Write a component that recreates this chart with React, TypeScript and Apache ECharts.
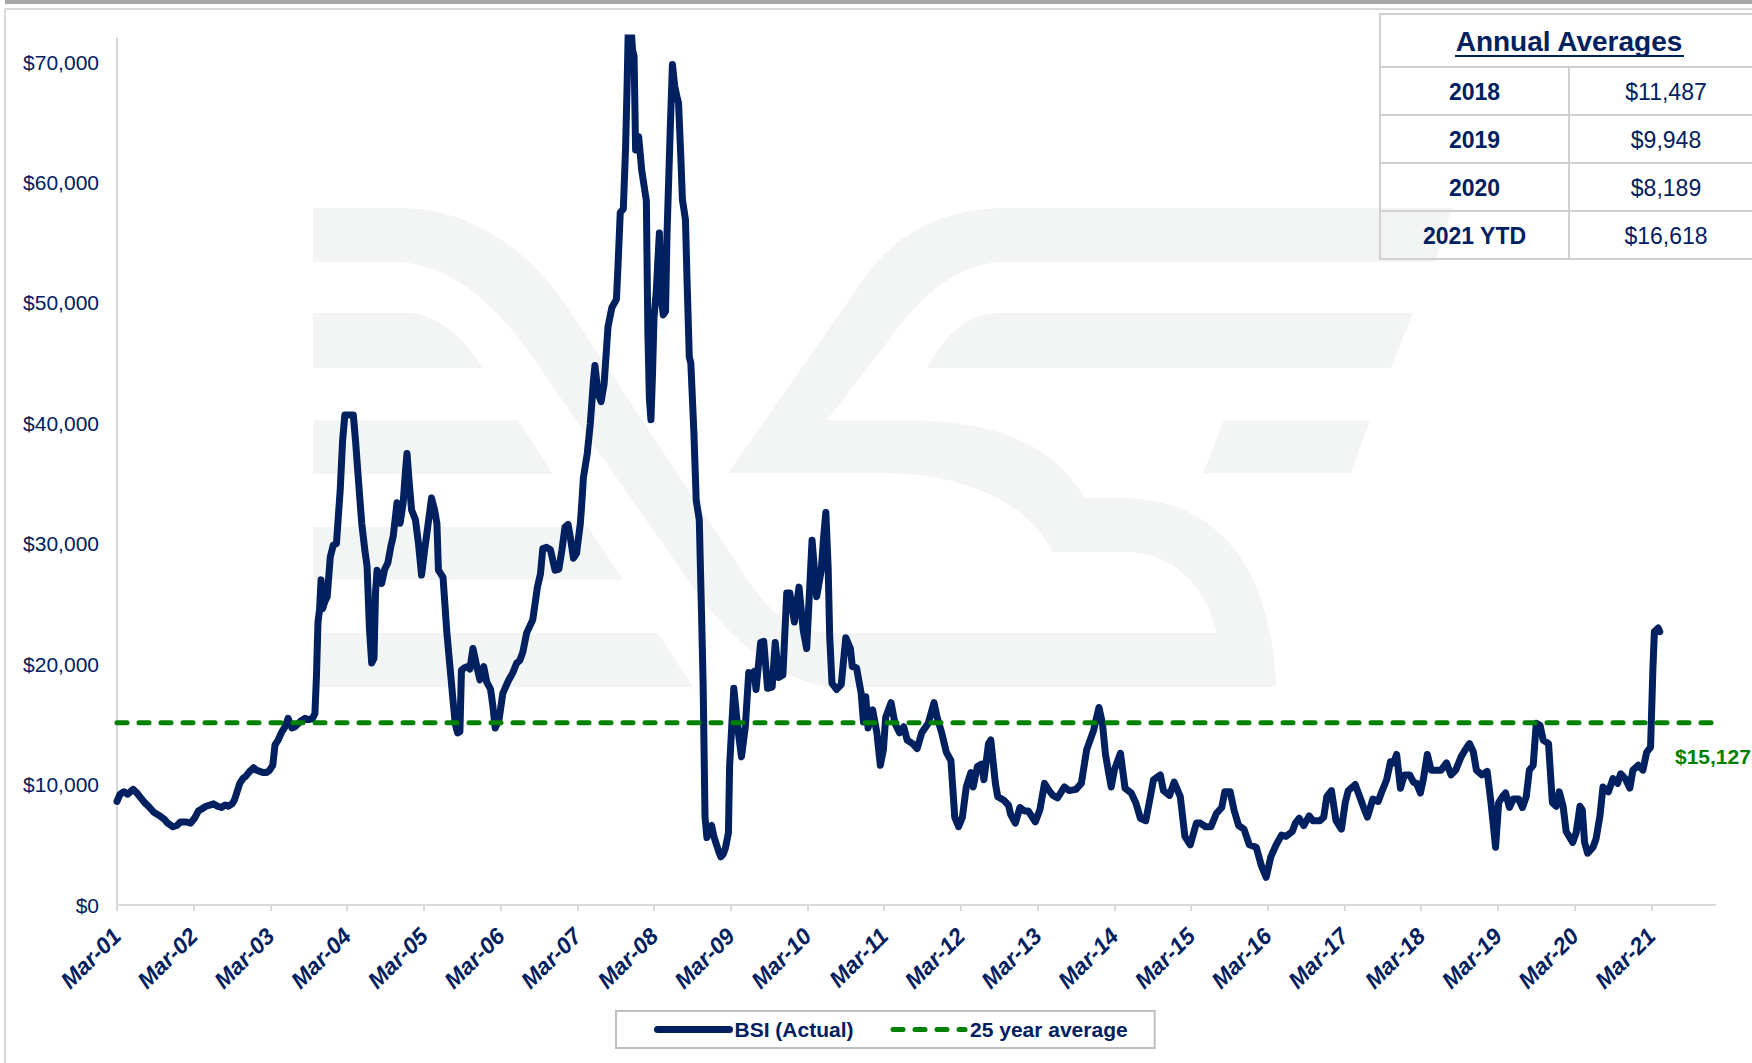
import React, { useEffect, useRef } from 'react';
import * as echarts from 'echarts';

// ---------- axis setup (x = years since Mar-2001) ----------
const xAxisMax = 20.83;
const yAxisMax = 72000;
const xTickPositions = [0, 1, 2, 3, 4, 5, 6, 7, 8, 9, 10, 11, 12, 13, 14, 15, 16, 17, 18, 19, 20];
const xTickLabels = [
  'Mar-01', 'Mar-02', 'Mar-03', 'Mar-04', 'Mar-05', 'Mar-06', 'Mar-07', 'Mar-08', 'Mar-09', 'Mar-10',
  'Mar-11', 'Mar-12', 'Mar-13', 'Mar-14', 'Mar-15', 'Mar-16', 'Mar-17', 'Mar-18', 'Mar-19', 'Mar-20', 'Mar-21',
];
const yTickValues = [0, 10000, 20000, 30000, 40000, 50000, 60000, 70000];

const averageValue = 15127;

// ---------- annual averages table ----------
const tableTitle = 'Annual Averages';
const tableYears = ['2018', '2019', '2020', '2021 YTD'];
const tableAverages = [11487, 9948, 8189, 16618];

// ---------- BSI series: [years since Mar-2001, USD/day] ----------
const bsi2001to2004 = [
  [0.00, 8600], [0.04, 9200], [0.09, 9400], [0.14, 9200], [0.21, 9600], [0.26, 9300], [0.31, 8900], [0.36, 8500],
  [0.41, 8200], [0.48, 7700], [0.56, 7400], [0.62, 7100], [0.66, 6800], [0.73, 6500], [0.78, 6600], [0.83, 6900],
  [0.90, 6900], [0.96, 6800], [1.01, 7200], [1.06, 7800], [1.11, 8000], [1.16, 8200], [1.21, 8300], [1.26, 8400],
  [1.31, 8200], [1.36, 8100], [1.41, 8300], [1.45, 8200], [1.50, 8400], [1.53, 8700], [1.57, 9500], [1.60, 10100],
  [1.64, 10500], [1.68, 10700], [1.73, 11100], [1.78, 11400], [1.82, 11200], [1.86, 11100], [1.91, 11000], [1.95, 11000],
  [1.99, 11200], [2.03, 11600], [2.06, 13300], [2.10, 13700], [2.15, 14400], [2.19, 14800], [2.23, 15500], [2.26, 15000],
  [2.28, 14700], [2.32, 14800], [2.35, 15000], [2.40, 15300], [2.45, 15500], [2.50, 15400], [2.55, 15500], [2.58, 15900],
  [2.60, 19000], [2.62, 23500], [2.64, 24500], [2.66, 27000], [2.68, 24600], [2.71, 25200], [2.74, 25600], [2.78, 28900],
  [2.82, 29900], [2.86, 30000], [2.91, 34500], [2.94, 38500], [2.97, 40700], [3.02, 40700], [3.08, 40700], [3.11, 38500],
  [3.14, 35900], [3.19, 31700], [3.23, 29500], [3.26, 28100], [3.29, 23000], [3.32, 20100], [3.35, 20500], [3.37, 26000],
  [3.39, 27800], [3.45, 26700], [3.49, 27900], [3.53, 28400], [3.57, 29800], [3.60, 30600], [3.65, 33400], [3.69, 31700],
  [3.73, 33400], [3.76, 36000], [3.78, 37500], [3.81, 35000], [3.84, 32800], [3.89, 32000], [3.93, 30000], [3.97, 27400],
];
const bsi2005to2008 = [
  [4.01, 29500], [4.04, 30900], [4.10, 33800], [4.14, 32800], [4.17, 31700], [4.19, 27800], [4.25, 27200], [4.30, 22600],
  [4.34, 19800], [4.38, 17000], [4.41, 15000], [4.44, 14300], [4.47, 14400], [4.49, 19500], [4.53, 19700], [4.57, 19800],
  [4.60, 19600], [4.64, 21300], [4.69, 19800], [4.73, 18700], [4.78, 19800], [4.82, 18500], [4.87, 17900], [4.90, 16500],
  [4.93, 14700], [4.98, 15400], [5.03, 17600], [5.10, 18600], [5.16, 19300], [5.21, 20100], [5.25, 20300], [5.29, 21000],
  [5.34, 22600], [5.42, 23700], [5.46, 25500], [5.48, 26400], [5.52, 27500], [5.55, 29600], [5.60, 29700], [5.65, 29500],
  [5.71, 27800], [5.76, 27900], [5.80, 29500], [5.84, 31400], [5.88, 31600], [5.91, 30500], [5.95, 28800], [5.99, 29200],
  [6.04, 31700], [6.06, 33500], [6.08, 35500], [6.13, 37500], [6.17, 40000], [6.21, 43500], [6.23, 44800], [6.27, 42500],
  [6.31, 41800], [6.35, 43300], [6.40, 48000], [6.45, 49600], [6.51, 50300], [6.53, 53000], [6.56, 57500], [6.60, 57800],
  [6.63, 63000], [6.65, 68300], [6.665, 73000], [6.70, 73000], [6.72, 71000], [6.74, 70500], [6.76, 62700], [6.80, 63800],
  [6.84, 61000], [6.90, 58500], [6.92, 47500], [6.94, 42000], [6.96, 40300], [6.98, 44000], [7.00, 48800], [7.03, 51000],
  [7.05, 53500], [7.07, 55800], [7.10, 50200], [7.12, 49000], [7.15, 49300], [7.17, 55800], [7.21, 64100], [7.24, 69800],
  [7.27, 68000], [7.30, 67100], [7.32, 66600], [7.35, 62000], [7.37, 58600], [7.41, 56900], [7.43, 52000], [7.46, 45500],
  [7.48, 45000], [7.52, 39200], [7.55, 33600], [7.59, 32000], [7.62, 24000], [7.64, 18400], [7.665, 7300], [7.69, 5600],
  [7.72, 6500], [7.75, 6600], [7.78, 5700], [7.81, 5100], [7.84, 4500], [7.87, 4000], [7.90, 4200], [7.93, 4700],
  [7.97, 6000],
];
const bsi2009to2012 = [
  [7.985, 11500], [8.04, 18000], [8.09, 14800], [8.14, 12300], [8.19, 14800], [8.235, 19300], [8.27, 19200], [8.305, 19400],
  [8.33, 17900], [8.39, 21800], [8.43, 21900], [8.48, 18000], [8.54, 18100], [8.58, 21800], [8.625, 18900], [8.68, 19100],
  [8.73, 25900], [8.77, 25900], [8.83, 23500], [8.89, 26400], [8.945, 22800], [8.99, 21300], [9.06, 30300], [9.12, 25600],
  [9.18, 27800], [9.21, 30500], [9.24, 32600], [9.27, 28000], [9.29, 22300], [9.32, 18400], [9.38, 17900], [9.44, 18300],
  [9.50, 22200], [9.56, 21300], [9.585, 19800], [9.64, 19700], [9.70, 17600], [9.73, 15200], [9.76, 17300], [9.79, 14700],
  [9.85, 16200], [9.905, 14300], [9.95, 11600], [9.99, 12900], [10.02, 15600], [10.09, 16800], [10.14, 15100], [10.20, 14300],
  [10.255, 14800], [10.30, 13700], [10.37, 13400], [10.43, 13000], [10.49, 14300], [10.575, 15100], [10.65, 16800], [10.69, 15600],
  [10.75, 14300], [10.81, 12700], [10.87, 12000], [10.92, 7300], [10.97, 6500], [11.02, 7300], [11.07, 9800], [11.13, 11000],
  [11.16, 9800], [11.215, 11500], [11.27, 11700], [11.30, 10400], [11.36, 13400], [11.39, 13700], [11.45, 10100], [11.48, 9000],
  [11.56, 8700], [11.62, 8300], [11.65, 7500], [11.71, 6800], [11.77, 8100], [11.83, 7800], [11.88, 7800], [11.97, 6900],
];
const bsi2013to2016 = [
  [12.03, 7900], [12.09, 10100], [12.15, 9500], [12.20, 9100], [12.26, 8900], [12.35, 9800], [12.41, 9500], [12.50, 9600],
  [12.57, 10100], [12.64, 12900], [12.73, 14500], [12.80, 16400], [12.845, 15100], [12.885, 12500], [12.92, 11200], [12.96, 9800],
  [13.00, 11200], [13.08, 12600], [13.14, 9700], [13.22, 9300], [13.28, 8500], [13.34, 7200], [13.41, 7000], [13.47, 9000],
  [13.51, 10400], [13.60, 10800], [13.64, 9500], [13.72, 9100], [13.78, 10200], [13.86, 9000], [13.92, 5700], [13.99, 5000],
  [14.07, 6800], [14.12, 6800], [14.19, 6500], [14.26, 6500], [14.33, 7600], [14.40, 8100], [14.44, 9400], [14.51, 9400],
  [14.56, 7900], [14.62, 6600], [14.69, 6300], [14.76, 5000], [14.85, 4800], [14.92, 3200], [14.98, 2300], [15.04, 4000],
  [15.11, 5000], [15.18, 5800], [15.24, 5700], [15.32, 6100], [15.36, 6800], [15.41, 7200], [15.47, 6600], [15.54, 7400],
  [15.59, 7000], [15.68, 7000], [15.73, 7300], [15.77, 9000], [15.83, 9500], [15.89, 7000], [15.96, 6300],
];
const bsi2017to2021 = [
  [16.01, 8500], [16.05, 9500], [16.14, 10000], [16.21, 8800], [16.25, 8100], [16.30, 7300], [16.37, 8800], [16.44, 8600],
  [16.48, 9300], [16.55, 10400], [16.60, 11900], [16.64, 11800], [16.68, 12500], [16.73, 9700], [16.78, 10800], [16.85, 10800],
  [16.90, 10200], [16.94, 10100], [16.99, 9300], [17.03, 10500], [17.08, 12500], [17.13, 11200], [17.20, 11200], [17.26, 11200],
  [17.33, 11800], [17.39, 10800], [17.45, 11200], [17.52, 12300], [17.585, 13000], [17.63, 13400], [17.68, 12700], [17.72, 11200],
  [17.79, 10800], [17.86, 11100], [17.91, 8500], [17.97, 4800], [18.01, 8500], [18.06, 9000], [18.10, 9300], [18.15, 8100],
  [18.20, 8800], [18.27, 8800], [18.32, 8100], [18.37, 9000], [18.41, 11200], [18.46, 11600], [18.50, 15100], [18.55, 14900],
  [18.59, 13700], [18.66, 13400], [18.71, 8500], [18.76, 8200], [18.80, 9400], [18.85, 8200], [18.89, 6100], [18.975, 5200],
  [19.02, 6000], [19.07, 8200], [19.10, 7900], [19.13, 5200], [19.17, 4300], [19.24, 4800], [19.28, 5500], [19.33, 7400],
  [19.37, 9800], [19.44, 9400], [19.50, 10500], [19.56, 10100], [19.60, 10900], [19.66, 10500], [19.72, 9700], [19.76, 11200],
  [19.83, 11600], [19.89, 11200], [19.94, 12700], [19.99, 13100], [20.02, 19500], [20.04, 22700], [20.09, 23000], [20.11, 22700],
];

// ---------- styling ----------
const NAVY = '#002060';
const GREEN = '#008000';
const AXIS_GREY = '#d9d9d9';
const WATERMARK = '#f3f5f4';
const FONT = '"Liberation Sans", Arial, Helvetica, sans-serif';

const LOGO_PATH =
  'M313 208 L400 208 C470 208 530 250 567 307 L750 583 C775 620 800 633 840 633 L1217 633 ' +
  'C1208 595 1180 552 1125 552 L1052 552 C1038 520 990 473 879 473 L728 473 L856 290 ' +
  'C890 235 940 208 1007 208 L1452 208 L1435 262 L1007 262 C960 262 925 290 889 340 L827 420 L898 420 ' +
  'C990 420 1050 440 1085 498 L1125 498 C1220 500 1272 570 1276 687 L841 687 C790 687 740 650 700 597 ' +
  'L550 383 C510 320 460 262 393 262 L313 262 Z ' +
  'M313 313 L413 313 C440 318 462 335 483 368 L313 368 Z ' +
  'M313 420 L518 420 L553 474 L313 474 Z ' +
  'M313 527 L588 527 L623 580 L313 580 Z ' +
  'M313 633 L658 633 L693 687 L313 687 Z ' +
  'M997 313 L1413 313 L1391 368 L927 368 C945 335 965 315 997 313 Z ' +
  'M1224 420 L1370 420 L1351 473 L1203 473 Z';

echarts.graphic.registerShape('bsiLogo', echarts.graphic.extendPath(LOGO_PATH, {}));

const fmtUsd = (v: number) => '$' + Math.round(v).toLocaleString('en-US');

function buildTable(): any[] {
  const left = 1380;
  const top = 14;
  const colX = 1569;
  const right = 1762;
  const headerH = 53;
  const rowH = 48;
  const stroke = '#d0d0d0';
  const els: any[] = [];
  const bottom = top + headerH + rowH * tableYears.length;
  els.push({
    type: 'rect', silent: true,
    shape: { x: left, y: top, width: right - left, height: bottom - top },
    style: { fill: 'none', stroke, lineWidth: 2 },
  });
  els.push({
    type: 'line', silent: true,
    shape: { x1: colX, y1: top + headerH, x2: colX, y2: bottom },
    style: { stroke, lineWidth: 2 },
  });
  els.push({
    type: 'text', silent: true, x: (left + right) / 2 - 2, y: top + headerH / 2 + 1,
    style: { text: tableTitle, fill: NAVY, fontSize: 28, fontWeight: 'bold', fontFamily: FONT, align: 'center', verticalAlign: 'middle' },
  });
  els.push({
    type: 'line', silent: true,
    shape: { x1: 1455, y1: 56, x2: 1684, y2: 56 },
    style: { stroke: NAVY, lineWidth: 2 },
  });
  tableYears.forEach((yr, i) => {
    const y0 = top + headerH + rowH * i;
    els.push({
      type: 'line', silent: true,
      shape: { x1: left, y1: y0, x2: right, y2: y0 },
      style: { stroke, lineWidth: 2 },
    });
    els.push({
      type: 'text', silent: true, x: (left + colX) / 2, y: y0 + rowH / 2 + 1,
      style: { text: yr, fill: NAVY, fontSize: 23, fontWeight: 'bold', fontFamily: FONT, align: 'center', verticalAlign: 'middle' },
    });
    els.push({
      type: 'text', silent: true, x: 1666, y: y0 + rowH / 2 + 1,
      style: { text: fmtUsd(tableAverages[i]), fill: NAVY, fontSize: 23, fontFamily: FONT, align: 'center', verticalAlign: 'middle' },
    });
  });
  return els;
}

export default function App() {
  const ref = useRef<HTMLDivElement>(null);

  useEffect(() => {
    if (!ref.current) return;
    const chart = echarts.init(ref.current, null, { renderer: 'svg' });
    const bsiData = [...bsi2001to2004, ...bsi2005to2008, ...bsi2009to2012, ...bsi2013to2016, ...bsi2017to2021];

    const option: any = {
      animation: false,
      backgroundColor: '#ffffff',
      textStyle: { fontFamily: FONT },
      grid: { left: 117, right: 37, top: 38, bottom: 158 },
      xAxis: {
        type: 'value',
        min: 0,
        max: xAxisMax,
        interval: 1,
        axisLine: { show: true, onZero: false, lineStyle: { color: AXIS_GREY, width: 2 } },
        axisTick: { show: true, length: 6, customValues: xTickPositions, lineStyle: { color: AXIS_GREY, width: 2 } },
        axisLabel: {
          customValues: xTickPositions,
          rotate: 45,
          margin: 27,
          formatter: (v: number) => xTickLabels[Math.round(v)] ?? '',
          color: NAVY,
          fontSize: 23,
          fontWeight: 'bold',
          fontStyle: 'italic',
          fontFamily: FONT,
        },
        splitLine: { show: false },
      },
      yAxis: {
        type: 'value',
        min: 0,
        max: yAxisMax,
        interval: 10000,
        axisLine: { show: true, lineStyle: { color: AXIS_GREY, width: 2 } },
        axisTick: { show: false },
        axisLabel: {
          customValues: yTickValues,
          margin: 18,
          formatter: (v: number) => fmtUsd(v),
          color: NAVY,
          fontSize: 21,
          fontFamily: FONT,
        },
        splitLine: { show: false },
      },
      legend: {
        left: 616,
        top: 1011,
        padding: [8, 27, 8, 38],
        itemWidth: 72,
        itemHeight: 4,
        itemGap: 37,
        borderColor: '#bfbfbf',
        borderWidth: 2,
        itemStyle: { opacity: 0 },
        lineStyle: { width: 'inherit' },
        textStyle: { color: NAVY, fontSize: 21, fontWeight: 'bold', fontFamily: FONT },
        data: ['BSI (Actual)', '25 year average'],
      },
      series: [
        {
          name: 'BSI (Actual)',
          type: 'line',
          data: bsiData,
          symbol: 'none',
          showSymbol: false,
          clip: true,
          z: 3,
          itemStyle: { color: NAVY },
          lineStyle: { color: NAVY, width: 7, cap: 'round', join: 'round' },
        },
        {
          name: '25 year average',
          type: 'line',
          data: [[0, averageValue], [xAxisMax, averageValue]],
          symbol: 'none',
          showSymbol: false,
          z: 4,
          itemStyle: { color: GREEN },
          lineStyle: { color: GREEN, width: 5, type: [10, 12], cap: 'round' },
          endLabel: {
            show: true,
            formatter: () => fmtUsd(averageValue),
            color: GREEN,
            fontSize: 21,
            fontWeight: 'bold',
            fontFamily: FONT,
            offset: [-48, 34],
          },
        },
      ],
      graphic: [
        { type: 'bsiLogo', x: 0, y: 0, z: -10, silent: true, style: { fill: WATERMARK } },
        { type: 'rect', silent: true, shape: { x: 5, y: 0, width: 1747, height: 4 }, style: { fill: '#a6a6a6' } },
        { type: 'line', silent: true, shape: { x1: 5, y1: 9, x2: 1752, y2: 9 }, style: { stroke: AXIS_GREY, lineWidth: 2 } },
        { type: 'line', silent: true, shape: { x1: 5, y1: 9, x2: 5, y2: 1063 }, style: { stroke: AXIS_GREY, lineWidth: 2 } },
        ...buildTable(),
      ],
    };

    chart.setOption(option);
    return () => chart.dispose();
  }, []);

  return <div ref={ref} style={{ position: 'absolute', left: 0, top: 0, width: 1752, height: 1063 }} />;
}
